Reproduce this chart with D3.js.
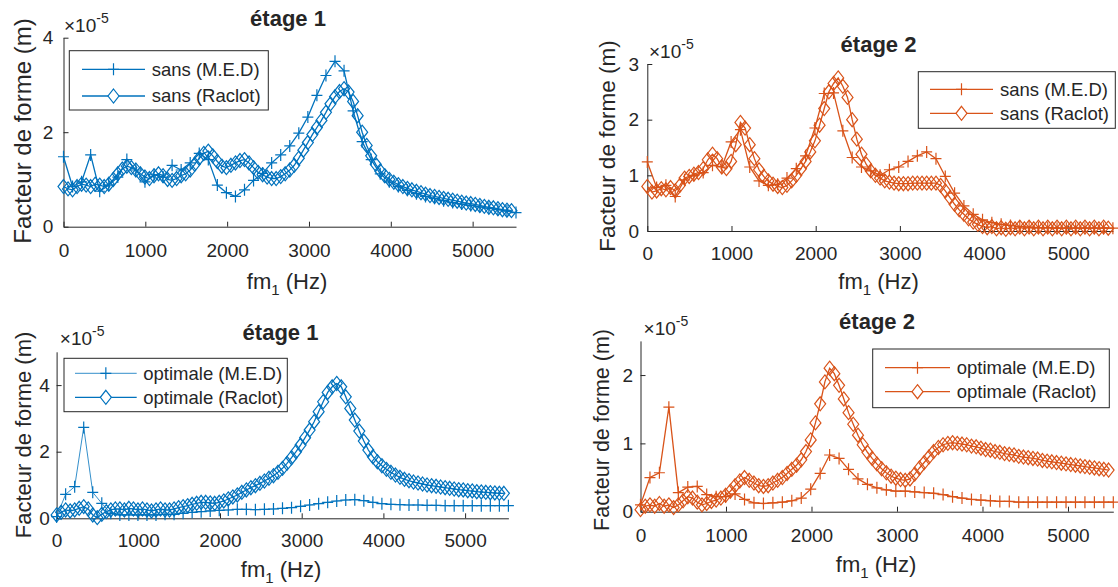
<!DOCTYPE html>
<html><head><meta charset="utf-8">
<script src="https://cdn.jsdelivr.net/npm/d3@7"></script>
<style>
body{margin:0;background:#fff}
svg{display:block}
text{font-family:"Liberation Sans",Arial,Helvetica,sans-serif;fill:#262626}
</style>
</head><body>
<svg id="c" width="1118" height="587"></svg>
<script>
// ---------- data ----------
const titles = ["étage 1", "étage 2", "étage 1", "étage 2"];
const legendLabels = [
  ["sans (M.E.D)", "sans (Raclot)"],
  ["sans (M.E.D)", "sans (Raclot)"],
  ["optimale (M.E.D)", "optimale (Raclot)"],
  ["optimale (M.E.D)", "optimale (Raclot)"]
];
const xTicks = [0, 1000, 2000, 3000, 4000, 5000];
const xTickLabels = ["0", "1000", "2000", "3000", "4000", "5000"];
const yTicks = [[0, 2, 4], [0, 1, 2, 3], [0, 2, 4], [0, 1, 2]];
const yMaxes = [4, 3, 5, 2.5];
const fmMax = 5530; // Hz
const yLabel = "Facteur de forme (m)";
const expLabel = ["×10", "-5"];

// values in units of 1e-5 m ; M.E.D sampled every fmMax/50 Hz, Raclot every fmMax/100 Hz
const med1 = [1.48,0.85,0.95,1.52,0.75,0.88,1.05,1.42,1.2,0.95,
  1.1,1.05,1.3,1.2,1.35,1.55,1.42,0.88,0.72,0.64,
  0.78,0.98,1.13,1.35,1.52,1.71,1.98,2.32,2.78,3.2,
  3.5,3.3,2.45,1.8,1.42,1.12,0.95,0.85,0.77,0.7,
  0.64,0.6,0.55,0.51,0.48,0.45,0.42,0.39,0.36,0.33,0.3];
const raclot1 = [0.85,0.8,0.78,0.85,0.9,0.88,0.85,0.9,0.88,0.85,
  0.9,1.0,1.12,1.22,1.28,1.25,1.2,1.12,1.05,1.02,
  1.08,1.12,1.08,1.0,0.98,1.02,1.08,1.12,1.2,1.32,
  1.45,1.55,1.6,1.5,1.38,1.28,1.25,1.3,1.35,1.4,
  1.42,1.35,1.25,1.15,1.1,1.05,1.02,1.02,1.06,1.12,
  1.2,1.3,1.45,1.62,1.78,1.95,2.1,2.25,2.42,2.6,
  2.75,2.86,2.92,2.85,2.65,2.35,2.0,1.72,1.5,1.32,
  1.18,1.08,1.0,0.94,0.89,0.85,0.81,0.78,0.75,0.72,
  0.69,0.66,0.64,0.62,0.6,0.58,0.56,0.54,0.52,0.5,
  0.49,0.47,0.45,0.43,0.41,0.4,0.38,0.36,0.35,0.34];
const med2 = [1.24,0.78,0.82,0.62,0.92,1.0,1.05,1.18,1.15,1.6,
  1.82,1.15,0.9,0.82,0.84,0.95,1.12,1.35,1.85,2.47,
  2.48,1.8,1.32,1.15,1.08,1.0,1.1,1.15,1.25,1.35,
  1.42,1.3,0.98,0.68,0.45,0.3,0.2,0.15,0.12,0.1,
  0.08,0.07,0.06,0.06,0.05,0.05,0.05,0.05,0.05,0.05,0.05];
const raclot2 = [0.8,0.7,0.72,0.76,0.74,0.78,0.72,0.82,0.95,0.98,
  1.02,1.05,1.12,1.28,1.38,1.3,1.15,1.12,1.25,1.55,
  1.95,1.85,1.55,1.3,1.1,0.98,0.9,0.84,0.8,0.78,
  0.82,0.9,1.0,1.12,1.25,1.42,1.62,1.9,2.2,2.5,
  2.65,2.75,2.6,2.4,2.0,1.65,1.38,1.2,1.08,1.0,
  0.95,0.9,0.88,0.86,0.85,0.85,0.85,0.86,0.86,0.86,
  0.86,0.86,0.86,0.82,0.72,0.6,0.48,0.38,0.3,0.22,
  0.16,0.12,0.08,0.06,0.08,0.04,0.06,0.03,0.06,0.04,
  0.07,0.04,0.07,0.04,0.07,0.04,0.07,0.04,0.07,0.04,
  0.07,0.04,0.07,0.04,0.07,0.04,0.07,0.04,0.07,0.05];
const med3 = [0.05,0.72,0.95,2.73,0.78,0.45,0.15,0.1,0.1,0.1,
  0.1,0.1,0.12,0.12,0.15,0.18,0.2,0.22,0.24,0.25,
  0.27,0.27,0.26,0.27,0.28,0.3,0.32,0.36,0.4,0.44,
  0.48,0.52,0.55,0.56,0.53,0.48,0.44,0.42,0.41,0.4,
  0.4,0.39,0.39,0.38,0.38,0.38,0.38,0.38,0.38,0.38,0.38];
const raclot3 = [0.1,0.18,0.25,0.22,0.25,0.3,0.35,0.28,0.1,0.02,
  0.12,0.2,0.25,0.28,0.28,0.25,0.3,0.28,0.25,0.28,
  0.25,0.22,0.25,0.28,0.25,0.25,0.28,0.32,0.35,0.38,
  0.42,0.45,0.48,0.48,0.46,0.45,0.48,0.52,0.58,0.64,
  0.7,0.78,0.85,0.92,0.98,1.05,1.12,1.2,1.28,1.38,
  1.5,1.65,1.82,2.0,2.2,2.42,2.65,2.9,3.2,3.5,
  3.78,3.95,4.05,3.95,3.65,3.3,2.95,2.62,2.32,2.05,
  1.85,1.7,1.58,1.47,1.38,1.3,1.23,1.17,1.13,1.09,
  1.06,1.03,1.0,0.98,0.96,0.94,0.92,0.9,0.88,0.86,
  0.85,0.83,0.82,0.8,0.79,0.78,0.77,0.76,0.75,0.75];
const med4 = [0.1,0.5,0.57,1.53,0.28,0.36,0.37,0.25,0.22,0.22,
  0.26,0.18,0.13,0.12,0.13,0.14,0.16,0.2,0.33,0.56,
  0.83,0.78,0.62,0.48,0.4,0.35,0.32,0.3,0.3,0.29,
  0.28,0.27,0.25,0.22,0.2,0.18,0.17,0.16,0.15,0.15,
  0.14,0.14,0.14,0.14,0.14,0.14,0.14,0.14,0.14,0.14,0.14];
const raclot4 = [0.03,0.08,0.1,0.08,0.12,0.08,0.1,0.06,0.1,0.16,
  0.22,0.2,0.14,0.1,0.12,0.15,0.17,0.2,0.24,0.3,
  0.38,0.45,0.5,0.46,0.42,0.38,0.37,0.38,0.42,0.46,
  0.5,0.56,0.62,0.68,0.76,0.88,1.05,1.3,1.58,1.9,
  2.1,2.02,1.85,1.65,1.45,1.28,1.12,0.98,0.87,0.78,
  0.7,0.63,0.57,0.52,0.49,0.47,0.46,0.48,0.55,0.64,
  0.72,0.8,0.88,0.94,0.98,1.0,1.01,1.0,0.99,0.98,
  0.96,0.95,0.93,0.91,0.9,0.88,0.87,0.85,0.84,0.83,
  0.81,0.8,0.79,0.78,0.77,0.75,0.74,0.73,0.72,0.71,
  0.7,0.69,0.68,0.67,0.66,0.65,0.64,0.63,0.62,0.61];

const medSeries = [med1, med2, med3, med4];
const raclotSeries = [raclot1, raclot2, raclot3, raclot4];
const seriesColors = ["#0072BD", "#D95319", "#0072BD", "#D95319"];

// ---------- layout (pixels) ----------
const layout = [
  {box:[63.5,516,226.7,37.7], leg:[69.3,50.7,199,59.3], rows:[69.3,96], line:[82,145], text:151.7,
   title:[288,26], exp:[64,31.7], yl:[23,131,24], xl:[287,289], tickBase:257.3, yRight:53.4, medW:1.3},
  {box:[647.3,1112.9,231,64], leg:[918.3,71.7,197,56.6], rows:[89.3,113.3], line:[930,993], text:1000,
   title:[878.5,51.7], exp:[649,58.3], yl:[607,146,22.5], xl:[878.5,289], tickBase:260, yRight:639, medW:1.3},
  {box:[56.6,508.4,518.3,351.8], leg:[64,358.3,223.3,53.4], rows:[373.3,397.3], line:[75,136.7], text:143.3,
   title:[280.5,340], exp:[59.8,345], yl:[23,435,22], xl:[281,576.7], tickBase:546.7, yRight:49.8, medW:0.8},
  {box:[640.5,1113.3,511.7,340.9], leg:[872.7,349,236.6,58.7], rows:[367.7,391.7], line:[885,950], text:956.7,
   title:[877,329.3], exp:[643.6,335], yl:[601,430,21.5], xl:[876,571.7], tickBase:541.7, yRight:633, medW:1.3}
];

const plusPath = "M-5.5,0H5.5M0,-6V6";
const diamondPath = "M0,-7L5.5,0L0,7L-5.5,0Z";
const axisColor = "#262626";

const svg = d3.select("#c");
const fmMED = d3.range(med1.length).map(i => i * fmMax / (med1.length - 1));
const fmRAC = d3.range(raclot1.length).map(i => i * fmMax / 100);

layout.forEach((L, k) => {
  const col = seriesColors[k];
  const x = d3.scaleLinear().domain([0, fmMax]).range([L.box[0], L.box[1]]);
  const y = d3.scaleLinear().domain([0, yMaxes[k]]).range([L.box[2], L.box[3]]);
  const g = svg.append("g");

  // axes
  const xa = g.append("g").attr("transform", `translate(0,${L.box[2]})`)
    .call(d3.axisBottom(x).tickValues(xTicks).tickFormat((d, i) => xTickLabels[i])
      .tickSize(-5).tickSizeOuter(0).tickPadding(L.tickBase - L.box[2] - 13.6));
  const ya = g.append("g").attr("transform", `translate(${L.box[0]},0)`)
    .call(d3.axisLeft(y).tickValues(yTicks[k]).tickFormat(d3.format("d"))
      .tickSize(-5).tickSizeOuter(0).tickPadding(L.box[0] - L.yRight));
  [xa, ya].forEach(a => {
    a.selectAll("path,line").attr("stroke", axisColor).attr("stroke-width", 1);
    a.selectAll("text").attr("font-size", 19).attr("fill", axisColor)
      .style("font-family", '"Liberation Sans",Arial,sans-serif');
  });

  // data
  const med = medSeries[k].map((v, i) => [fmMED[i], v]);
  const rac = raclotSeries[k].map((v, i) => [fmRAC[i], v]);
  const line = d3.line().x(d => x(d[0])).y(d => y(d[1]));

  g.append("path").attr("d", line(med)).attr("fill", "none")
    .attr("stroke", col).attr("stroke-width", L.medW);
  g.selectAll(".pm").data(med).enter().append("path")
    .attr("d", plusPath).attr("transform", d => `translate(${x(d[0])},${y(d[1])})`)
    .attr("fill", "none").attr("stroke", col).attr("stroke-width", 1.2);

  g.append("path").attr("d", line(rac)).attr("fill", "none")
    .attr("stroke", col).attr("stroke-width", 1.3);
  g.selectAll(".pd").data(rac).enter().append("path")
    .attr("d", diamondPath).attr("transform", d => `translate(${x(d[0])},${y(d[1])})`)
    .attr("fill", "none").attr("stroke", col).attr("stroke-width", 1.2);

  // title
  g.append("text").attr("x", L.title[0]).attr("y", L.title[1]).attr("text-anchor", "middle")
    .attr("font-size", 22).attr("font-weight", "bold").attr("fill", "#000").text(titles[k]);

  // exponent
  const ex = g.append("text").attr("x", L.exp[0]).attr("y", L.exp[1]).attr("font-size", 19);
  ex.append("tspan").text(expLabel[0]);
  ex.append("tspan").attr("font-size", 14).attr("dy", -9).text(expLabel[1]);

  // y label
  g.append("text").attr("transform", `translate(${L.yl[0]},${L.yl[1]}) rotate(-90)`)
    .attr("text-anchor", "middle").attr("dy", "0.35em").attr("font-size", L.yl[2]).text(yLabel);

  // x label
  const xl = g.append("text").attr("x", L.xl[0]).attr("y", L.xl[1]).attr("text-anchor", "middle")
    .attr("font-size", 22);
  xl.append("tspan").text("fm");
  xl.append("tspan").attr("font-size", 15).attr("dy", 6).text("1");
  xl.append("tspan").attr("dy", -6).text(" (Hz)");

  // legend
  g.append("rect").attr("x", L.leg[0]).attr("y", L.leg[1]).attr("width", L.leg[2]).attr("height", L.leg[3])
    .attr("fill", "#fff").attr("stroke", axisColor).attr("stroke-width", 1);
  const mx = (L.line[0] + L.line[1]) / 2;
  [0, 1].forEach(r => {
    const ry = L.rows[r];
    g.append("line").attr("x1", L.line[0]).attr("x2", L.line[1]).attr("y1", ry).attr("y2", ry)
      .attr("stroke", col).attr("stroke-width", r === 0 ? L.medW : 1.3);
    g.append("path").attr("d", r === 0 ? plusPath : diamondPath)
      .attr("transform", `translate(${mx},${ry})`).attr("fill", "#fff")
      .attr("stroke", col).attr("stroke-width", 1.2);
    g.append("text").attr("x", L.text).attr("y", ry).attr("dy", "0.35em")
      .attr("font-size", 18.5).attr("fill", "#000").text(legendLabels[k][r]);
  });
});
</script>
</body></html>
